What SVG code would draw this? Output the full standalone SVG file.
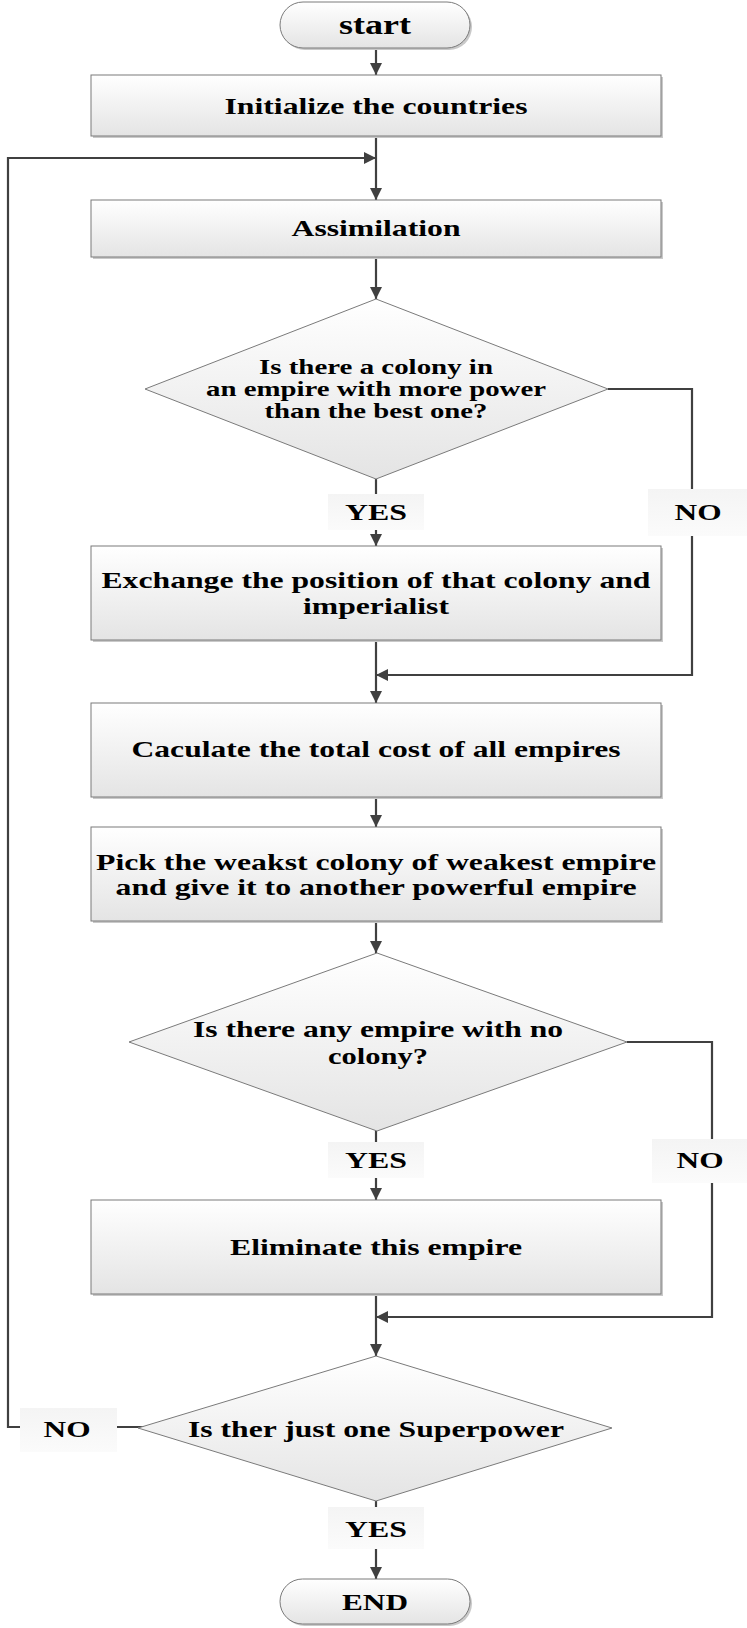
<svg xmlns="http://www.w3.org/2000/svg" width="747" height="1628" viewBox="0 0 747 1628">
<defs>
<linearGradient id="gBox" x1="0" y1="0" x2="0" y2="1">
<stop offset="0" stop-color="#ffffff"/>
<stop offset="1" stop-color="#e4e4e4"/>
</linearGradient>
<linearGradient id="gLab" x1="0" y1="0" x2="0" y2="1">
<stop offset="0" stop-color="#f4f4f4"/>
<stop offset="1" stop-color="#fbfbfb"/>
</linearGradient>
<marker id="arr" viewBox="0 0 12 12" refX="12" refY="6" markerWidth="12" markerHeight="12" markerUnits="userSpaceOnUse" orient="auto">
<path d="M0,0 L12,6 L0,12 z" fill="#404040"/>
</marker>
</defs>
<style>
.box{fill:url(#gBox);stroke:#7a7a7a;stroke-width:1}
.sh{fill:#c9c9c9}
.lab{fill:url(#gLab)}
.t{font-family:"Liberation Serif","Times New Roman",serif;font-weight:bold;font-size:24px;fill:#000;text-anchor:middle}
.ts{font-size:21.8px}
.tl{font-size:27px}
.c{fill:none;stroke:#404040;stroke-width:2.2}
.ca{fill:none;stroke:#404040;stroke-width:2.2;marker-end:url(#arr)}
</style>
<rect width="747" height="1628" fill="#ffffff"/>

<g id="connectors">
<line class="ca" x1="376" y1="48" x2="376" y2="75"/>
<line class="ca" x1="376" y1="136" x2="376" y2="200"/>
<polyline class="ca" points="163,1427 8,1427 8,158 376,158"/>
<line class="ca" x1="376" y1="257" x2="376" y2="299"/>
<line class="ca" x1="376" y1="479" x2="376" y2="546"/>
<polyline class="ca" points="608,389 692,389 692,675 376,675"/>
<line class="ca" x1="376" y1="640" x2="376" y2="703"/>
<line class="ca" x1="376" y1="797" x2="376" y2="827"/>
<line class="ca" x1="376" y1="921" x2="376" y2="953"/>
<line class="ca" x1="376" y1="1131" x2="376" y2="1200"/>
<polyline class="ca" points="627,1042 712,1042 712,1317 376,1317"/>
<line class="ca" x1="376" y1="1293" x2="376" y2="1356"/>
<line class="ca" x1="376" y1="1501" x2="376" y2="1579"/>
</g>

<g id="start">
<rect class="sh" x="282" y="4" width="190" height="46" rx="23"/>
<rect class="box" x="280" y="2" width="190" height="46" rx="23"/>
<text class="t tl" x="375" y="34" textLength="72" lengthAdjust="spacingAndGlyphs">start</text>
</g>

<g id="init">
<rect class="sh" x="93" y="77" width="570" height="61"/>
<rect class="box" x="91" y="75" width="570" height="61"/>
<text class="t" x="376" y="114" textLength="303" lengthAdjust="spacingAndGlyphs">Initialize the countries</text>
</g>

<g id="assim">
<rect class="sh" x="93" y="202" width="570" height="57"/>
<rect class="box" x="91" y="200" width="570" height="57"/>
<text class="t" x="376" y="236" textLength="169" lengthAdjust="spacingAndGlyphs">Assimilation</text>
</g>

<g id="dec1">
<polygon class="box" points="376,299 608,389 376,479 145,389"/>
<text class="t ts" x="376" y="374" textLength="234" lengthAdjust="spacingAndGlyphs">Is there a colony in</text>
<text class="t ts" x="376" y="396" textLength="340" lengthAdjust="spacingAndGlyphs">an empire with more power</text>
<text class="t ts" x="376" y="418" textLength="223" lengthAdjust="spacingAndGlyphs">than the best one?</text>
</g>

<g id="yes1">
<rect class="lab" x="328" y="494" width="96" height="36"/>
<text class="t" x="376" y="520" textLength="62" lengthAdjust="spacingAndGlyphs">YES</text>
</g>

<g id="no1">
<rect class="lab" x="648" y="489" width="99" height="47"/>
<text class="t" x="698" y="520" textLength="47" lengthAdjust="spacingAndGlyphs">NO</text>
</g>

<g id="exchange">
<rect class="sh" x="93" y="548" width="570" height="94"/>
<rect class="box" x="91" y="546" width="570" height="94"/>
<text class="t" x="376" y="588" textLength="549" lengthAdjust="spacingAndGlyphs">Exchange the position of that colony and</text>
<text class="t" x="376" y="614" textLength="146" lengthAdjust="spacingAndGlyphs">imperialist</text>
</g>

<g id="calc">
<rect class="sh" x="93" y="705" width="570" height="94"/>
<rect class="box" x="91" y="703" width="570" height="94"/>
<text class="t" x="376" y="757" textLength="489" lengthAdjust="spacingAndGlyphs">Caculate the total cost of all empires</text>
</g>

<g id="pick">
<rect class="sh" x="93" y="829" width="570" height="94"/>
<rect class="box" x="91" y="827" width="570" height="94"/>
<text class="t" x="376" y="870" textLength="560" lengthAdjust="spacingAndGlyphs">Pick the weakst colony of weakest empire</text>
<text class="t" x="376" y="895" textLength="521" lengthAdjust="spacingAndGlyphs">and give it to another powerful empire</text>
</g>

<g id="dec2">
<polygon class="box" points="377,953 627,1042 377,1131 129,1042"/>
<text class="t" x="378" y="1037" textLength="370" lengthAdjust="spacingAndGlyphs">Is there any empire with no</text>
<text class="t" x="378" y="1064" textLength="100" lengthAdjust="spacingAndGlyphs">colony?</text>
</g>

<g id="yes2">
<rect class="lab" x="328" y="1142" width="96" height="36"/>
<text class="t" x="376" y="1168" textLength="62" lengthAdjust="spacingAndGlyphs">YES</text>
</g>

<g id="no2">
<rect class="lab" x="652" y="1139" width="95" height="44"/>
<text class="t" x="700" y="1168" textLength="47" lengthAdjust="spacingAndGlyphs">NO</text>
</g>

<g id="elim">
<rect class="sh" x="93" y="1202" width="570" height="94"/>
<rect class="box" x="91" y="1200" width="570" height="94"/>
<text class="t" x="376" y="1255" textLength="292" lengthAdjust="spacingAndGlyphs">Eliminate this empire</text>
</g>

<g id="dec3">
<polygon class="box" points="376,1356 612,1428 376,1501 138,1428"/>
<text class="t" x="376" y="1437" textLength="376" lengthAdjust="spacingAndGlyphs">Is ther just one Superpower</text>
</g>

<g id="no3">
<rect class="lab" x="20" y="1408" width="97" height="44"/>
<text class="t" x="67" y="1437" textLength="47" lengthAdjust="spacingAndGlyphs">NO</text>
</g>

<g id="yes3">
<rect class="lab" x="328" y="1507" width="96" height="42"/>
<text class="t" x="376" y="1537" textLength="62" lengthAdjust="spacingAndGlyphs">YES</text>
</g>

<g id="end">
<rect class="sh" x="282" y="1581" width="190" height="45" rx="22.5"/>
<rect class="box" x="280" y="1579" width="190" height="45" rx="22.5"/>
<text class="t" x="375" y="1610" textLength="66" lengthAdjust="spacingAndGlyphs">END</text>
</g>
</svg>
